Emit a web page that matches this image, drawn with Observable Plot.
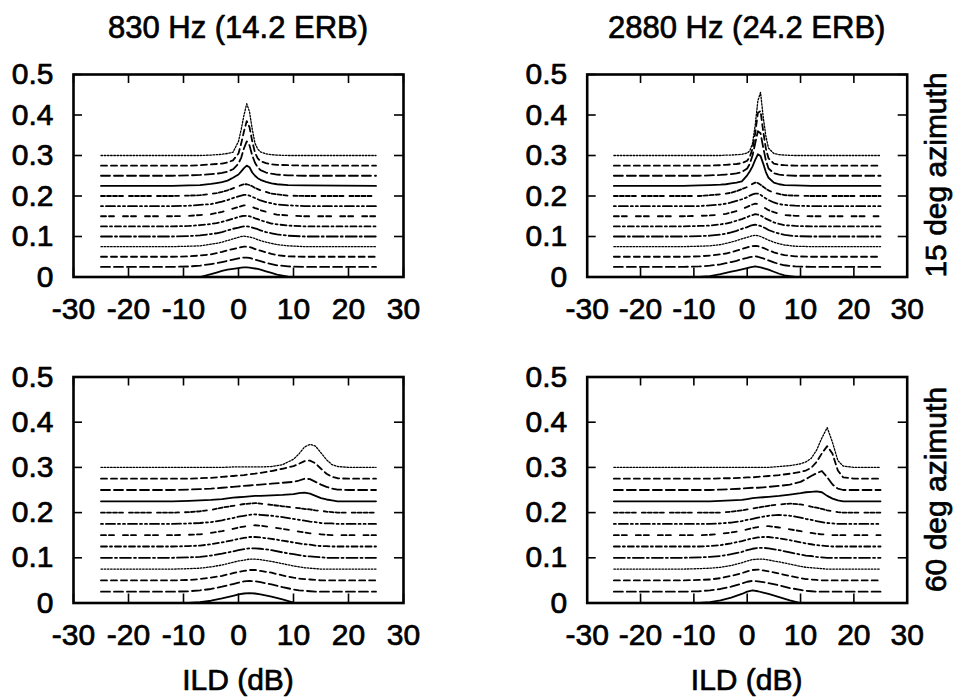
<!DOCTYPE html>
<html>
<head>
<meta charset="utf-8">
<script src="https://cdn.jsdelivr.net/npm/d3@7"></script>
<script src="https://cdn.jsdelivr.net/npm/@observablehq/plot@0.6"></script>
<style>
  html, body { margin: 0; padding: 0; background: #fff; }
  #fig { position: relative; width: 957px; height: 697px; background: #fff; overflow: hidden; }
  #fig svg { position: absolute; }
  #fig svg text { stroke: #000; stroke-width: 0.7px; stroke-linejoin: round; }
</style>
</head>
<body>
<div id="fig"></div>
<script>
// ---------------- data ----------------
const columnTitles = ["830 Hz (14.2 ERB)", "2880 Hz (24.2 ERB)"];
const rowTitles = ["15 deg azimuth", "60 deg azimuth"];
const xAxisTitle = "ILD (dB)";
const xTicks = [-30, -20, -10, 0, 10, 20, 30];
const xTickLabels = ["-30", "-20", "-10", "0", "10", "20", "30"];
const yTicks = [0, 0.1, 0.2, 0.3, 0.4, 0.5];
const yTickLabels = ["0", "0.1", "0.2", "0.3", "0.4", "0.5"];

// vertical offset of each of the 13 curves
const offsets = [0, 0.025, 0.05, 0.075, 0.1, 0.125, 0.15, 0.175, 0.2, 0.225, 0.25, 0.275, 0.3];

// ILD sample points (dB)
const ildTop = [-25, -12, -9, -7,  -5, -4, -3, -2, -1,  0, 0.5, 1, 1.5, 2,  2.5, 3, 3.5, 4,  5, 6, 7, 9,  12, 25];
const ildBottom = [-25, -12, -9, -7, -5,  -3, -1, 0, 1, 2,  3, 4, 6, 8, 10,  11, 12, 13, 14, 15,  16, 17, 18, 20, 25];

// height above each curve's offset: 830 Hz, 15 deg azimuth
const f830az15 = [
  [0,0,0,0,         .007,.011,.015,.018,.020, .022,.023,.024,.024,.023, .022,.021,.020,.018, .014,.010,.006,.001, 0,0],
  [0,0,.001,.003,   .007,.009,.012,.015,.018, .021,.022,.023,.023,.022, .020,.018,.016,.014, .010,.007,.004,.001, 0,0],
  [0,0,.001,.003,   .006,.009,.012,.016,.019, .022,.024,.025,.025,.024, .022,.019,.017,.015, .011,.007,.004,.001, 0,0],
  [0,0,.001,.002,   .006,.008,.011,.015,.019, .023,.025,.026,.025,.024, .022,.020,.017,.015, .011,.008,.005,.002, 0,0],
  [0,0,.001,.003,   .006,.008,.011,.015,.019, .022,.024,.025,.025,.024, .022,.020,.018,.015, .011,.008,.005,.002, 0,0],
  [0,0,.001,.003,   .006,.008,.011,.015,.019, .023,.025,.026,.026,.025, .023,.020,.018,.015, .011,.007,.005,.002, 0,0],
  [0,0,.001,.003,   .005,.008,.011,.015,.019, .023,.025,.027,.027,.026, .023,.020,.018,.015, .011,.007,.004,.002, 0,0],
  [0,0,.001,.003,   .005,.008,.011,.015,.020, .024,.026,.028,.028,.026, .023,.020,.017,.014, .010,.007,.004,.002, 0,0],
  [0,0,.001,.002,   .005,.007,.010,.014,.019, .024,.027,.029,.029,.027, .024,.020,.017,.014, .010,.006,.004,.001, 0,0],
  [0,0,.001,.002,   .005,.007,.009,.013,.020, .028,.036,.044,.050,.046, .033,.025,.019,.015, .010,.006,.004,.002, .001,0],
  [0,0,.001,.002,   .004,.005,.007,.010,.016, .030,.045,.068,.085,.075, .050,.032,.021,.014, .008,.005,.003,.001, 0,0],
  [0,0,0,.001,      .003,.004,.005,.008,.013, .030,.055,.085,.110,.095, .060,.032,.018,.011, .006,.003,.002,.001, 0,0],
  [0,0,0,0,         .001,.002,.003,.005,.008, .035,.065,.100,.128,.108, .065,.030,.016,.009, .004,.002,.001,0,    0,0]
];

// 2880 Hz, 15 deg azimuth
const f2880az15 = [
  [0,0,0,.002,      .007,.010,.013,.016,.019, .022,.024,.025,.026,.025, .024,.022,.020,.018, .013,.008,.004,0,    0,0],
  [0,0,.001,.003,   .006,.009,.012,.015,.019, .022,.024,.025,.026,.025, .023,.021,.018,.016, .011,.007,.004,.001, 0,0],
  [0,0,.001,.003,   .006,.008,.011,.015,.019, .023,.025,.026,.027,.026, .024,.022,.019,.016, .011,.007,.004,.001, 0,0],
  [0,0,.001,.002,   .005,.008,.011,.015,.019, .023,.025,.027,.028,.027, .025,.022,.019,.016, .011,.007,.004,.001, 0,0],
  [0,0,.001,.002,   .005,.007,.010,.014,.019, .023,.026,.028,.029,.028, .026,.023,.020,.016, .011,.007,.004,.001, 0,0],
  [0,0,.001,.002,   .005,.007,.010,.014,.018, .023,.026,.028,.030,.029, .027,.023,.019,.016, .010,.006,.003,.001, 0,0],
  [0,0,.001,.002,   .004,.006,.009,.013,.018, .023,.026,.029,.031,.030, .027,.023,.019,.015, .010,.006,.003,.001, 0,0],
  [0,0,0,.002,      .004,.006,.009,.013,.017, .022,.026,.029,.031,.031, .028,.023,.019,.015, .009,.005,.003,.001, 0,0],
  [0,0,0,.002,      .004,.006,.008,.012,.017, .022,.026,.030,.033,.032, .028,.023,.018,.014, .008,.005,.002,.001, 0,0],
  [0,0,.001,.002,   .003,.004,.006,.008,.011, .026,.036,.048,.064,.078, .074,.055,.034,.020, .008,.004,.002,.001, 0,0],
  [0,0,0,.001,      .002,.003,.004,.006,.009, .018,.030,.050,.080,.110, .105,.070,.038,.018, .006,.003,.001,0,    0,0],
  [0,0,0,0,         .001,.002,.003,.004,.006, .012,.022,.042,.080,.130, .135,.085,.042,.018, .005,.002,.001,0,    0,0],
  [0,0,0,0,         0,.001,.001,.002,.003,    .006,.012,.030,.075,.135, .156,.095,.048,.018, .005,.002,.001,0,    0,0]
];

// 830 Hz, 60 deg azimuth
const f830az60 = [
  [0,0,0,.002,.005,       .010,.016,.019,.021,.022, .021,.019,.014,.008,.001, 0,0,0,0,0,                 0,0,0,0,0],
  [0,0,.001,.003,.006,    .011,.017,.020,.023,.024, .023,.021,.016,.010,.005, .003,.002,.001,0,0,         0,0,0,0,0],
  [0,0,.001,.003,.006,    .010,.016,.019,.021,.023, .023,.021,.017,.011,.006, .004,.003,.002,.001,0,      0,0,0,0,0],
  [0,0,.001,.002,.005,    .009,.015,.018,.020,.022, .022,.021,.017,.012,.007, .005,.003,.002,.001,0,      0,0,0,0,0],
  [0,0,.001,.002,.005,    .009,.014,.017,.019,.021, .021,.020,.017,.012,.008, .006,.004,.003,.002,.001,   0,0,0,0,0],
  [0,0,.001,.002,.005,    .009,.014,.017,.019,.021, .021,.020,.017,.013,.009, .007,.005,.004,.002,.001,   .001,0,0,0,0],
  [0,0,.001,.002,.005,    .009,.014,.017,.019,.021, .022,.021,.018,.014,.010, .008,.006,.004,.003,.002,   .001,0,0,0,0],
  [0,0,.001,.002,.004,    .008,.013,.016,.018,.020, .021,.020,.018,.015,.011, .009,.007,.005,.004,.002,   .001,.001,0,0,0],
  [0,0,.001,.003,.006,    .011,.015,.017,.019,.020, .021,.020,.017,.014,.011, .010,.008,.007,.005,.004,   .002,.001,0,0,0],
  [0,0,.001,.002,.003,    .005,.008,.009,.010,.011, .012,.012,.013,.014,.016, .018,.019,.017,.012,.007,   .004,.002,0,0,0],
  [0,0,.001,.002,.003,    .005,.007,.008,.009,.010, .011,.012,.014,.016,.018, .021,.025,.024,.018,.012,   .007,.003,.001,0,0],
  [0,0,0,.001,.002,       .004,.006,.007,.008,.010, .011,.013,.017,.022,.028, .033,.039,.040,.034,.022,   .011,.004,.001,0,0],
  [0,0,0,0,0,             0,.001,.001,.001,.001,    .001,.001,.002,.006,.018, .030,.045,.051,.047,.032,   .017,.006,.002,0,0]
];

// 2880 Hz, 60 deg azimuth
const f2880az60 = [
  [0,0,0,.002,.006,       .012,.020,.025,.028,.026, .023,.020,.013,.006,0,    0,0,0,0,0,                  0,0,0,0,0],
  [0,0,.001,.003,.006,    .011,.018,.022,.024,.023, .021,.019,.014,.008,.004, .002,.001,0,0,0,            0,0,0,0,0],
  [0,0,.001,.002,.005,    .010,.016,.020,.023,.024, .022,.020,.015,.010,.005, .003,.002,.001,0,0,         0,0,0,0,0],
  [0,0,.001,.002,.004,    .008,.014,.018,.021,.022, .022,.020,.016,.011,.006, .004,.003,.002,.001,0,      0,0,0,0,0],
  [0,0,.001,.002,.004,    .008,.013,.017,.020,.022, .022,.021,.017,.012,.007, .005,.004,.002,.001,0,      0,0,0,0,0],
  [0,0,0,.001,.003,       .007,.012,.015,.018,.020, .021,.021,.018,.014,.009, .007,.005,.003,.002,.001,   0,0,0,0,0],
  [0,0,0,.001,.003,       .006,.010,.013,.016,.018, .020,.020,.017,.013,.009, .007,.005,.003,.002,.001,   0,0,0,0,0],
  [0,0,0,0,.001,          .003,.006,.009,.011,.014, .016,.018,.020,.018,.014, .011,.009,.006,.004,.002,   .001,0,0,0,0],
  [0,0,0,0,0,             .002,.005,.007,.009,.011, .013,.015,.018,.020,.018, .016,.013,.011,.008,.005,   .003,.001,0,0,0],
  [0,0,0,0,.001,          .002,.003,.005,.007,.008, .009,.010,.012,.015,.018, .020,.021,.022,.020,.012,   .006,.002,0,0,0],
  [0,0,0,0,.001,          .002,.003,.004,.005,.005, .006,.007,.009,.012,.018, .024,.031,.037,.042,.028,   .012,.003,0,0,0],
  [0,0,0,0,.001,          .001,.002,.003,.003,.004, .005,.006,.008,.011,.015, .018,.024,.037,.056,.072,   .055,.018,.003,0,0],
  [0,0,0,0,0,             0,0,0,0,0,                0,0,.002,.004,.008,       .012,.020,.038,.065,.088,   .055,.015,.003,0,0]
];

// ---------------- styling ----------------
const FONT = "'Liberation Sans', Arial, Helvetica, sans-serif";
// gnuplot-like monochrome line types, cycling every 9 curves
const dashes = [null, "9,4", "6,4", "1.6,1.6", "11,3,2,3", "6,3,2,3", "5,3,5,9", "2,3,9,3,2,3", "4,2,4,2,4,2,4,6"];

const panels = [
  {grid: ildTop,    values: f830az15,  left: 0,   top: 40,  width: 480, height: 300, ml: 73,    mr: 77,   mt: 34,   mb: 63.5},
  {grid: ildTop,    values: f2880az15, left: 480, top: 40,  width: 477, height: 300, ml: 106.7, mr: 50.3, mt: 34,   mb: 63.5},
  {grid: ildBottom, values: f830az60,  left: 0,   top: 340, width: 480, height: 340, ml: 73,    mr: 77,   mt: 36.5, mb: 77.5},
  {grid: ildBottom, values: f2880az60, left: 480, top: 340, width: 477, height: 340, ml: 106.7, mr: 50.3, mt: 36.5, mb: 77.5}
];

const fig = document.getElementById("fig");

for (const p of panels) {
  const innerW = p.width - p.ml - p.mr;
  const innerH = p.height - p.mt - p.mb;
  const curveMarks = p.values.map((vals, i) => {
    const rows = p.grid.map((ild, j) => ({ild, v: offsets[i] + vals[j]}));
    const dash = dashes[i % dashes.length];
    const opts = {x: "ild", y: "v", stroke: "black",
      strokeWidth: dash === "1.6,1.6" ? 1.3 : 1.8, strokeLinejoin: "round"};
    if (dash) opts.strokeDasharray = dash;
    return Plot.line(rows, opts);
  });
  const chart = Plot.plot({
    width: p.width,
    height: p.height,
    marginLeft: p.ml, marginRight: p.mr, marginTop: p.mt, marginBottom: p.mb,
    style: {fontFamily: FONT, fontSize: "30px", color: "black", background: "transparent", overflow: "visible"},
    x: {domain: [-30, 30], label: null},
    y: {domain: [0, 0.5], label: null},
    marks: [
      ...curveMarks,
      Plot.tickX(xTicks, {x: d => d, insetTop: innerH - 9, stroke: "black", strokeWidth: 1.6}),
      Plot.tickX(xTicks, {x: d => d, insetBottom: innerH - 9, stroke: "black", strokeWidth: 1.6}),
      Plot.tickY(yTicks, {y: d => d, insetRight: innerW - 9, stroke: "black", strokeWidth: 1.6}),
      Plot.tickY(yTicks, {y: d => d, insetLeft: innerW - 9, stroke: "black", strokeWidth: 1.6}),
      Plot.frame({stroke: "black", strokeWidth: 2.6}),
      Plot.axisX({ticks: xTicks, tickSize: 0, tickPadding: 20.7, label: null, fontSize: 30,
        tickFormat: d => xTickLabels[xTicks.indexOf(d)]}),
      Plot.axisY({ticks: yTicks, tickSize: 0, tickPadding: 20, label: null, fontSize: 30,
        tickFormat: d => yTickLabels[yTicks.indexOf(d)]})
    ]
  });
  chart.style.left = p.left + "px";
  chart.style.top = p.top + "px";
  fig.appendChild(chart);
}

// ---------------- titles (text overlay) ----------------
const overlay = d3.select(fig).append("svg")
  .attr("width", 957).attr("height", 697)
  .style("left", "0px").style("top", "0px").style("pointer-events", "none")
  .attr("font-family", FONT).attr("font-size", 30).attr("fill", "black");

const colCenters = [238, 746.7];
overlay.selectAll("text.col").data(columnTitles).join("text")
  .attr("class", "col").attr("x", (d, i) => colCenters[i]).attr("y", 38)
  .attr("font-size", 31)
  .attr("text-anchor", "middle").text(d => d);

overlay.selectAll("text.xt").data(colCenters).join("text")
  .attr("class", "xt").attr("x", d => d).attr("y", 690)
  .attr("text-anchor", "middle").text(xAxisTitle);

const rowCenters = [175, 489.5];
overlay.selectAll("text.row").data(rowTitles).join("text")
  .attr("class", "row")
  .attr("transform", (d, i) => `translate(946,${rowCenters[i]}) rotate(-90)`)
  .attr("text-anchor", "middle").text(d => d);
</script>
</body>
</html>
